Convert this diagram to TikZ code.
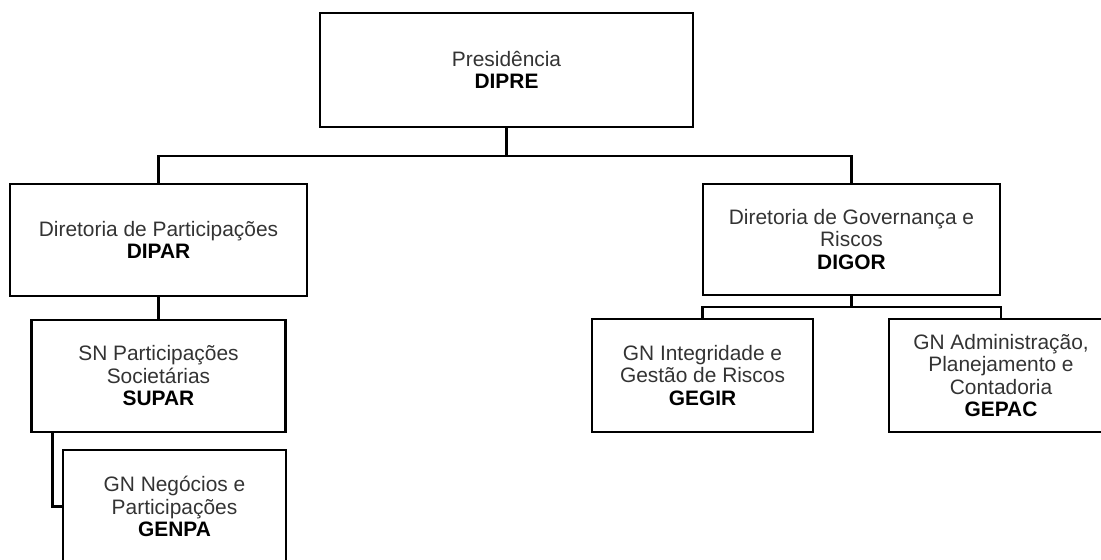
\documentclass[tikz,border=0pt]{standalone}
\usepackage{fontspec}
\setmainfont{Liberation Sans}
\usepackage{tikz}
\newcommand{\sigla}[1]{\textcolor{black}{\textbf{#1}}}

\begin{document}
\begin{tikzpicture}[x=0.02cm, y=-0.02cm, line width=1.4pt,
    unit/.style={draw, rectangle, align=center, inner sep=0pt, text=black!80,
      font=\fontsize{11.9}{12.8}\selectfont}]
  \useasboundingbox (0,0) rectangle (1101,559);
  \clip (0,0) rectangle (1101,559);
  \node [unit, minimum width=7.46cm, minimum height=2.28cm] (dipre) at (506.5,70) {Presidência\\\sigla{DIPRE}};
  \node [unit, minimum width=5.94cm, minimum height=2.24cm] (dipar) at (158.5,240) {Diretoria de Participações\\\sigla{DIPAR}};
  \node [unit, minimum width=5.94cm, minimum height=2.22cm] (digor) at (851.5,239.5) {Diretoria de Governança e\\Riscos\\\sigla{DIGOR}};
  \node [unit, minimum width=5.08cm, minimum height=2.24cm] (supar) at (158.5,376) {SN Participações\\Societárias\\\sigla{SUPAR}};
  \node [unit, minimum width=4.46cm, minimum height=2.26cm] (genpa) at (174.5,506.5) {GN Negócios e\\Participações\\\sigla{GENPA}};
  \node [unit, minimum width=4.42cm, minimum height=2.26cm] (gegir) at (702.5,375.5) {GN Integridade e\\Gestão de Riscos\\\sigla{GEGIR}};
  \node [unit, minimum width=4.48cm, minimum height=2.26cm] (gepac) at (1001,375.5) {GN Administração,\\Planejamento e\\Contadoria\\\sigla{GEPAC}};
  % ligacoes
  \coordinate (topbus) at (0,156);
  \coordinate (rbus) at (0,307);
  \draw (dipar.north) |- (topbus -| dipre.south) -- (dipre.south);
  \draw (digor.north) |- (topbus -| dipre.south);
  \draw (dipar.south) -- (supar.north);
  \draw (supar.south west) ++(22,0) |- (genpa.west);
  \draw (gegir.north) |- (rbus -| digor.south) -- (digor.south);
  \draw (gepac.north) |- (rbus -| digor.south);
\end{tikzpicture}
\end{document}
